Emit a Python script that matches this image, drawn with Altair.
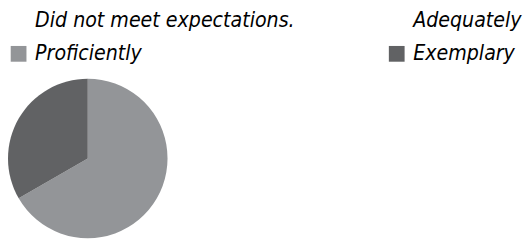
import altair as alt
import pandas as pd

categories = ["Did not meet expectations.", "Adequately", "Proficiently", "Exemplary"]
values = [0, 0, 2, 1]
colors = ["#ffffff", "#ffffff", "#939598", "#616264"]
order = [0, 1, 2, 3]

# legend is filled column by column: column 1 = first and third category
legend_domain = [categories[0], categories[2], categories[1], categories[3]]
legend_range = [colors[0], colors[2], colors[1], colors[3]]

df = pd.DataFrame({"category": categories, "value": values, "order": order})

FONT = "DejaVu Sans Condensed, sans-serif"

chart = alt.Chart(df).mark_arc(stroke=None).encode(
    theta=alt.Theta("value:Q", stack=True),
    color=alt.Color(
        "category:N",
        scale=alt.Scale(domain=legend_domain, range=legend_range),
        legend=alt.Legend(
            title=None,
            orient="none",
            legendX=0,
            legendY=-70,
            columns=2,
            columnPadding=92,
            rowPadding=11,
            symbolType="square",
            symbolSize=256,
            symbolStrokeWidth=0,
            labelFont=FONT,
            labelFontStyle="italic",
            labelFontSize=21.5,
            labelColor="#000000",
            labelOffset=6,
            labelLimit=600,
        ),
    ),
    order=alt.Order("order:Q"),
).properties(
    width=162,
    height=162,
    autosize=alt.AutoSizeParams(type="none"),
    padding={"left": 0, "top": 70, "right": 362, "bottom": 0},
).configure_view(stroke=None)

chart.save("out.html", embed_options={"renderer": "svg", "actions": False})
